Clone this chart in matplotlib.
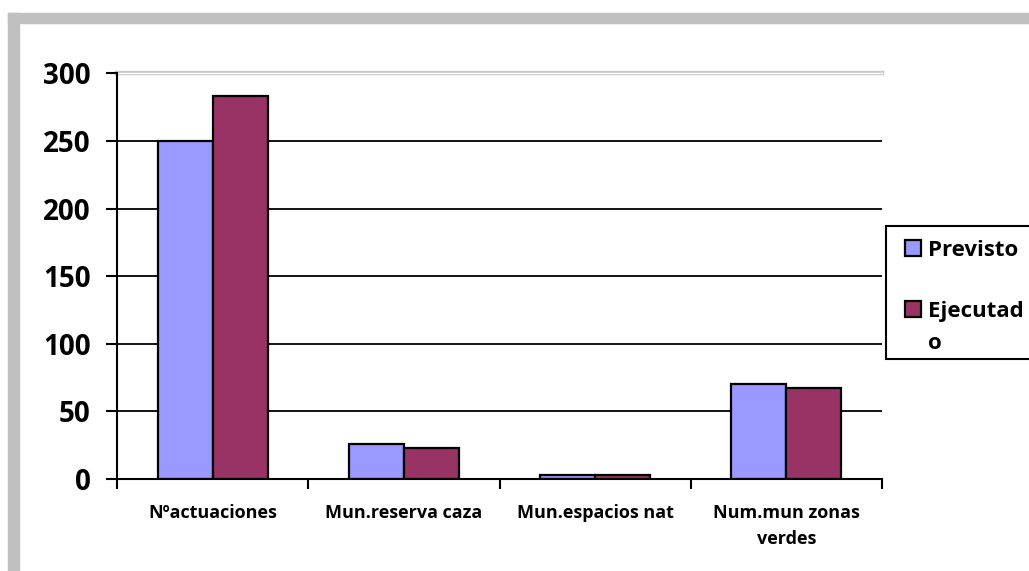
import numpy as np
import matplotlib.pyplot as plt
from matplotlib.patches import Rectangle

plt.rcParams['font.family'] = ['Open Sans', 'DejaVu Sans']
plt.rcParams['font.weight'] = 'bold'

# data
categories = ['Nºactuaciones', 'Mun.reserva caza', 'Mun.espacios nat', 'Num.mun zonas\nverdes']
previsto = [250, 26, 3, 70]
ejecutado = [283, 23, 3, 67]
series_labels = ['Previsto', 'Ejecutad\no']
colors = ['#9999FF', '#993366']

W, H = 1029, 571
fig = plt.figure(figsize=(W / 100, H / 100), dpi=100)

# gray frame (top + left strips)
fig.patches.append(Rectangle((8 / W, 1 - 23 / H), (W - 8) / W, 10 / H,
                             transform=fig.transFigure, color='#c0c0c0', zorder=0))
fig.patches.append(Rectangle((8 / W, 0), 11 / W, 1 - 13 / H,
                             transform=fig.transFigure, color='#c0c0c0', zorder=0))

ax = fig.add_axes([117 / W, 1 - 479 / H, (882 - 117) / W, (479 - 73.3) / H])

x = np.arange(len(categories)) + 0.5
bw = 0.288
lw = 1.6
ax.bar(x - bw / 2, previsto, bw, color=colors[0], edgecolor='black', linewidth=lw,
       label=series_labels[0], zorder=3)
ax.bar(x + bw / 2, ejecutado, bw, color=colors[1], edgecolor='black', linewidth=lw,
       label=series_labels[1], zorder=3)

ax.set_xlim(0, len(categories))
ax.set_ylim(0, 300)
ax.set_yticks(range(0, 301, 50))
ax.set_yticklabels([str(v) for v in range(0, 301, 50)], fontsize=20, fontweight='bold')
ax.tick_params(axis='y', length=8, width=1.5, direction='out', pad=11)

# gridlines: black, top one gray double
for v in range(50, 300, 50):
    ax.axhline(v, color='black', lw=1.3, zorder=1)
ax.axhline(300, color='#c8c8c8', lw=3.2, zorder=1, clip_on=False)
ax.axhline(300, color='white', lw=1.0, zorder=1, clip_on=False)

ax.set_xticks(x)
ax.set_xticklabels(categories, fontsize=13, fontweight='bold', linespacing=1.55)
ax.tick_params(axis='x', length=0, pad=18)
ax.set_xticks(np.arange(len(categories) + 1), minor=True)
ax.tick_params(axis='x', which='minor', length=7, width=1.5, direction='out')

for s in ['top', 'right']:
    ax.spines[s].set_visible(False)
for s in ['left', 'bottom']:
    ax.spines[s].set_linewidth(1.5)
ax.spines['left'].set_zorder(4)
ax.spines['bottom'].set_zorder(4)

# legend box
fig.patches.append(Rectangle((886 / W, 1 - 359 / H), 160 / W, 133 / H,
                             transform=fig.transFigure, facecolor='white',
                             edgecolor='black', linewidth=1.5, zorder=5))
leg = fig.legend(loc='upper left', bbox_to_anchor=(894 / W, 1 - 229 / H),
                 frameon=False, prop={'size': 16, 'weight': 'bold'},
                 handlelength=0.7, handleheight=0.7,
                 handletextpad=0.35, labelspacing=1.8, borderpad=0)
for t in leg.get_texts():
    t.set_linespacing(1.7)
# handle next to first line of a wrapped label
for col in leg._legend_handle_box.get_children():
    for item in col.get_children():
        item.align = 'top'
leg.set_zorder(6)

fig.savefig('out.png', dpi=100, facecolor='white')
